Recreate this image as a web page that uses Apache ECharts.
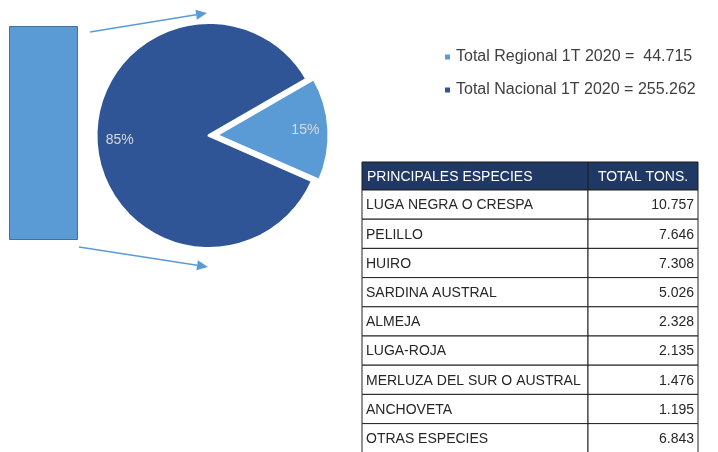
<!DOCTYPE html>
<html>
<head>
<meta charset="utf-8">
<script src="https://cdn.jsdelivr.net/npm/echarts@6/dist/echarts.min.js"></script>
<style>
  html, body { margin: 0; padding: 0; background: #fff; }
  #chart { width: 718px; height: 452px; }
</style>
</head>
<body>
<div id="chart"></div>
<script>
// pie: regional vs national totals (tons, 1T 2020)
const pieNames = ['Total Regional 1T 2020', 'Total Nacional 1T 2020'];
const pieValues = [44.715, 255.262];
const pieLabels = ['44.715', '255.262'];
const pieColors = ['#5b9bd5', '#2f5597'];

// table of main species
const species = ['LUGA NEGRA O CRESPA', 'PELILLO', 'HUIRO', 'SARDINA AUSTRAL', 'ALMEJA',
  'LUGA-ROJA', 'MERLUZA DEL SUR O AUSTRAL', 'ANCHOVETA', 'OTRAS ESPECIES'];
const tons = ['10.757', '7.646', '7.308', '5.026', '2.328', '2.135', '1.476', '1.195', '6.843'];
const headers = ['PRINCIPALES ESPECIES', 'TOTAL TONS.'];

const font = '"Liberation Sans", Arial, sans-serif';
const chart = echarts.init(document.getElementById('chart'));

// arrow helper (line + head)
function arrow(x1, y1, x2, y2) {
  const dx = x2 - x1, dy = y2 - y1;
  const len = Math.sqrt(dx * dx + dy * dy);
  const ux = dx / len, uy = dy / len;
  const hl = 11, hw = 5;
  const bx = x2 - ux * hl, by = y2 - uy * hl;
  return [
    { type: 'line', shape: { x1: x1, y1: y1, x2: bx, y2: by }, style: { stroke: '#5b9bd5', lineWidth: 1.5 } },
    { type: 'polygon', shape: { points: [[x2, y2], [bx - uy * hw, by + ux * hw], [bx + uy * hw, by - ux * hw]] },
      style: { fill: '#5b9bd5' } }
  ];
}

// table graphic
const tX = 362, tX2 = 698, tDiv = 588, tTop = 162, hH = 28, rH = 29.2;
const tableEls = [];
tableEls.push({ type: 'rect', shape: { x: tX, y: tTop, width: tX2 - tX, height: hH },
  style: { fill: '#1f3864', stroke: '#1a1a1a', lineWidth: 1 } });
tableEls.push({ type: 'text', style: { x: tX + 5, y: tTop + hH / 2 + 1, text: headers[0], fill: '#fff',
  font: '14px ' + font, verticalAlign: 'middle' } });
tableEls.push({ type: 'text', style: { x: (tDiv + tX2) / 2, y: tTop + hH / 2 + 1, text: headers[1], fill: '#fff',
  font: '14px ' + font, align: 'center', verticalAlign: 'middle' } });
species.forEach(function (s, i) {
  const y = tTop + hH + i * rH;
  tableEls.push({ type: 'rect', shape: { x: tX, y: y, width: tDiv - tX, height: rH },
    style: { fill: '#fff', stroke: '#222', lineWidth: 1 } });
  tableEls.push({ type: 'rect', shape: { x: tDiv, y: y, width: tX2 - tDiv, height: rH },
    style: { fill: '#fff', stroke: '#222', lineWidth: 1 } });
  tableEls.push({ type: 'text', style: { x: tX + 4, y: y + rH / 2 + 1, text: s, fill: '#262626',
    font: '14px ' + font, verticalAlign: 'middle' } });
  tableEls.push({ type: 'text', style: { x: tX2 - 4, y: y + rH / 2 + 1, text: tons[i], fill: '#262626',
    font: '14px ' + font, align: 'right', verticalAlign: 'middle' } });
});
tableEls.push({ type: 'line', shape: { x1: tDiv, y1: tTop, x2: tDiv, y2: tTop + hH }, style: { stroke: '#1a1a1a', lineWidth: 1 } });

const pieData = pieNames.map(function (n, i) {
  return { name: n, value: pieValues[i], selected: i === 0, itemStyle: { color: pieColors[i] } };
});

chart.setOption({
  backgroundColor: '#fff',
  animation: false,
  legend: {
    orient: 'vertical',
    left: 438,
    top: 44,
    itemGap: 17,
    itemWidth: 7,
    itemHeight: 7,
    icon: 'rect',
    selectedMode: false,
    data: pieNames.map(function (n, i) { return { name: n, itemStyle: { color: pieColors[i] } }; }),
    formatter: function (name) {
      const i = pieNames.indexOf(name);
      return name + ' = ' + (i === 0 ? ' ' : '') + pieLabels[i];
    },
    textStyle: { color: '#404040', fontSize: 16, fontFamily: font }
  },
  grid: { left: 9, top: 26, width: 69, height: 214 },
  xAxis: { type: 'category', data: ['Regional'], show: false },
  yAxis: { type: 'value', min: 0, max: pieValues[0], show: false },
  graphic: arrow(90, 32, 207, 13).concat(arrow(79, 247, 208, 267), tableEls),
  series: [
    {
      type: 'bar',
      data: [pieValues[0]],
      barWidth: '100%',
      itemStyle: { color: '#5b9bd5', borderColor: '#41719c', borderWidth: 1 },
      silent: true
    },
    {
      type: 'pie',
      center: [209, 135.5],
      radius: [0, 113],
      startAngle: 30,
      selectedMode: 'single',
      selectedOffset: 7,
      data: pieData,
      label: { show: false },
      labelLine: { show: false },
      itemStyle: { borderColor: '#fff', borderWidth: 3 },
      silent: true
    },
    {
      // overlay ring only used to place the percentage labels
      type: 'pie',
      center: [209, 135.5],
      radius: [60, 113],
      startAngle: 30,
      selectedMode: 'single',
      selectedOffset: 7,
      data: pieData.map(function (d) { return { name: d.name, value: d.value, selected: d.selected }; }),
      itemStyle: { color: 'rgba(0,0,0,0)', borderWidth: 0 },
      label: {
        show: true,
        position: 'inside',
        formatter: function (p) { return Math.round(p.percent) + '%'; },
        color: '#d9d9d9',
        fontSize: 14,
        fontFamily: font
      },
      labelLine: { show: false },
      silent: true
    }
  ]
});
</script>
</body>
</html>
